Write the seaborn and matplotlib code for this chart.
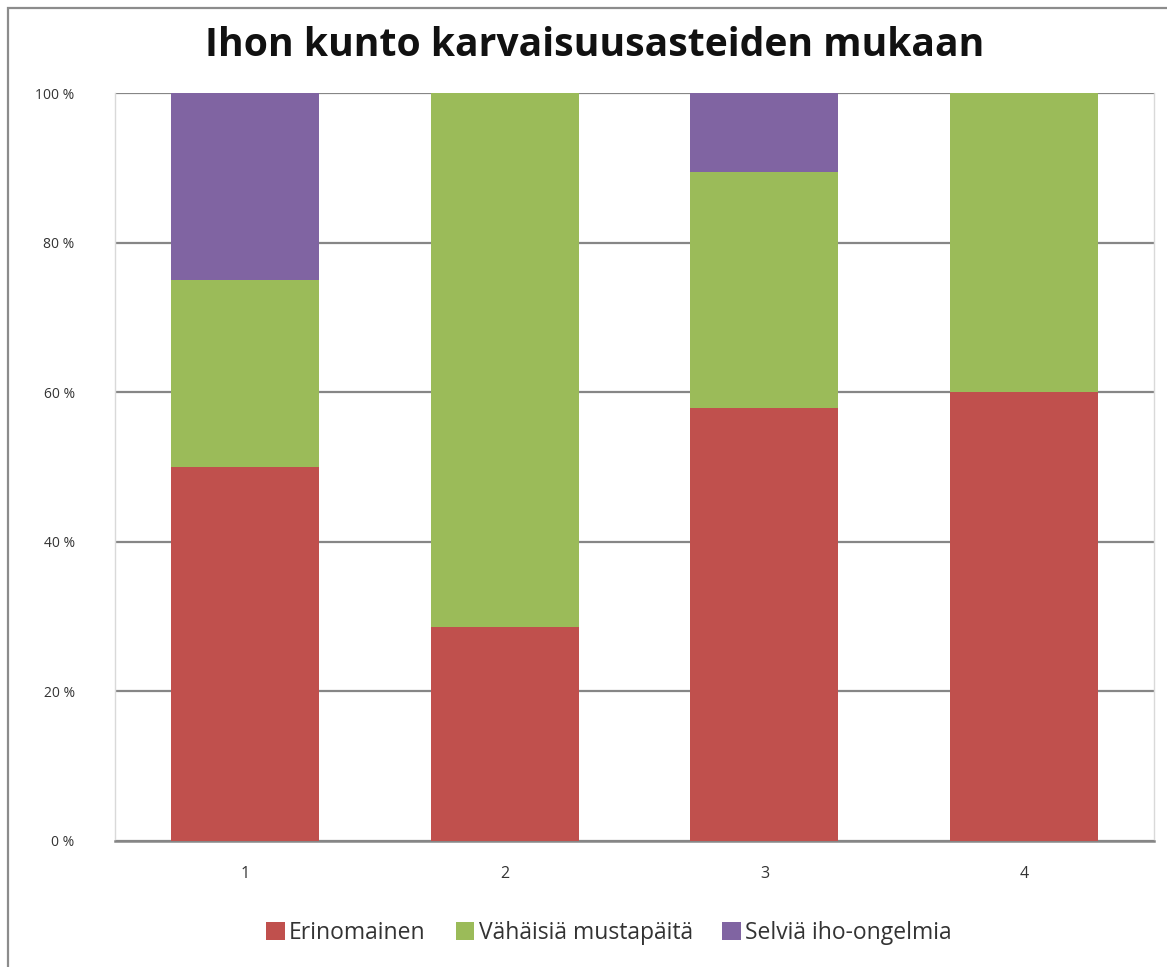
import matplotlib
matplotlib.use("Agg")
import matplotlib.pyplot as plt
import seaborn as sns
import pandas as pd
import numpy as np
from matplotlib.patches import Rectangle, Patch

# data (osuudet %, luettu kuvasta)
categories = ["1", "2", "3", "4"]
erinomainen = [50.0, 28.6, 57.9, 60.0]
vahaisia = [25.0, 71.4, 31.6, 40.0]
selvia = [25.0, 0.0, 10.5, 0.0]
series_names = ["Erinomainen", "Vähäisiä mustapäitä", "Selviä iho-ongelmia"]
colors = ["#C0504D", "#9BBB59", "#8064A2"]

sns.set_style("white")
plt.rcParams["font.family"] = ["Open Sans", "DejaVu Sans"]

df = pd.DataFrame({"ryhma": categories,
                   series_names[0]: erinomainen,
                   series_names[1]: vahaisia,
                   series_names[2]: selvia})
cum = df[series_names].cumsum(axis=1)

fig = plt.figure(figsize=(11.67, 9.67), dpi=100)
ax = fig.add_axes([0.0985, 0.1303, 0.8904, 0.7735])

# pinotut pylväät: piirretään ylimmästä alimpaan
for name, col in reversed(list(zip(series_names, colors))):
    sns.barplot(x=df["ryhma"], y=cum[name], color=col, width=0.57,
                saturation=1, linewidth=0, ax=ax, zorder=3)

ax.set_xlim(-0.5, 3.5)
ax.set_ylim(0, 100)
ax.set_yticks([0, 20, 40, 60, 80, 100])
ax.set_yticklabels([f"{v} %" for v in [0, 20, 40, 60, 80, 100]])
ax.yaxis.grid(True, color="#868686", linewidth=1.6, zorder=1)
ax.set_axisbelow(True)
ax.tick_params(axis="y", length=0, pad=29, labelsize=10, labelcolor="#333333")
ax.tick_params(axis="x", length=0, pad=18, labelsize=11.5, labelcolor="#333333")
ax.set_xlabel("")
ax.set_ylabel("")
for s in ["left", "right"]:
    ax.spines[s].set_color("#D9D9D9")
    ax.spines[s].set_linewidth(1.0)
ax.spines["top"].set_visible(False)
ax.spines["bottom"].set_color("#868686")
ax.spines["bottom"].set_linewidth(1.8)

fig.text(0.51, 0.953, "Ihon kunto karvaisuusasteiden mukaan",
         ha="center", va="center", fontsize=28.2, fontweight="bold", color="#111111")

handles = [Patch(facecolor=c, edgecolor="none") for c in colors]
fig.legend(handles, series_names, loc="center", bbox_to_anchor=(0.522, 0.035),
           ncol=3, frameon=False, fontsize=16.5, handlelength=0.8, handleheight=0.8,
           handletextpad=0.2, columnspacing=1.3, labelcolor="#333333")

# kaavion ulkoreunus
fig.patches.append(Rectangle((8 / 1167, -0.05), 1.2, 1 - 8 / 967 + 0.05,
                             transform=fig.transFigure, fill=False,
                             edgecolor="#8C8C8C", linewidth=1.6))

fig.savefig("out.png", dpi=100)
